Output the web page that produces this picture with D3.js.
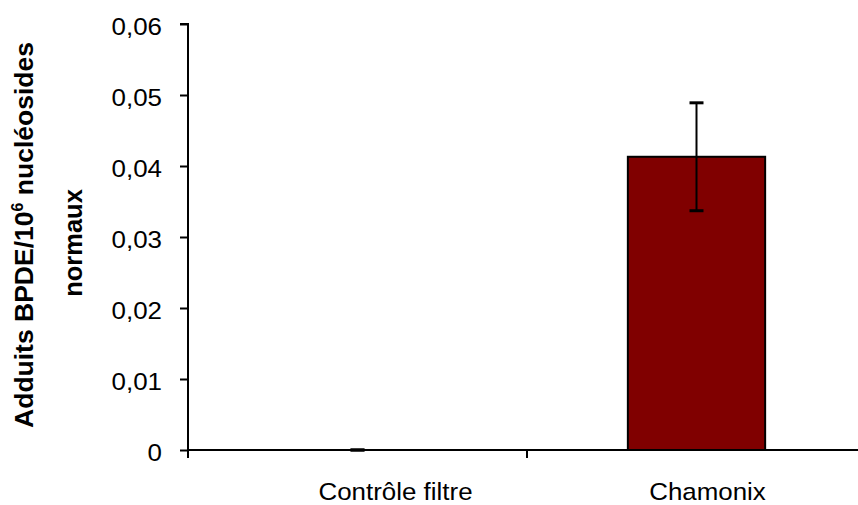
<!DOCTYPE html>
<html>
<head>
<meta charset="utf-8">
<script src="https://cdn.jsdelivr.net/npm/d3@7"></script>
<style>
  html, body { margin: 0; padding: 0; background: #fff; }
  svg { display: block; font-family: Arial, "Liberation Sans", sans-serif; }
</style>
</head>
<body>
<svg id="chart" width="858" height="505"></svg>
<script>
const categories = ["Contrôle filtre", "Chamonix"];
const values = [0, 0.0413];
const errors = [0, 0.0076];
const yTicks = [0, 0.01, 0.02, 0.03, 0.04, 0.05, 0.06];

const svg = d3.select("#chart");
const x0 = 188, x1 = 866, yTop = 24, yBottom = 450;

const x = d3.scaleBand().domain(categories).range([x0, x1]).paddingInner(0).paddingOuter(0);
const y = d3.scaleLinear().domain([0, 0.06]).range([yBottom, yTop]);
const fmt = v => d3.format(".2f")(v).replace(".", ",");

// Y axis
const yAxis = d3.axisLeft(y).tickValues(yTicks).tickSize(8).tickPadding(18)
  .tickFormat(v => v === 0 ? "0" : fmt(v));
const gy = svg.append("g").attr("transform", `translate(${x0},0)`).call(yAxis);
gy.select(".domain").attr("stroke", "#000").attr("stroke-width", 2).attr("d", `M-8,${yTop}H0V${yBottom}`);
gy.selectAll(".tick line").attr("stroke", "#000").attr("stroke-width", 2);
gy.selectAll(".tick text")
  .attr("fill", "#000").attr("font-size", 24).attr("dy", null)
  .attr("y", 10).attr("x", 0)
  .attr("transform", "translate(-26,0) scale(1.08,1)");

// X axis
const xAxis = d3.axisBottom(x).tickSize(0).tickFormat("");
const gx = svg.append("g").attr("transform", `translate(0,${yBottom})`).call(xAxis);
gx.select(".domain").attr("stroke", "#000").attr("stroke-width", 2).attr("d", `M${x0},0H${x1}`);
const bounds = [x0, x0 + x.step()];
gx.selectAll(".bound").data(bounds).enter().append("line")
  .attr("x1", d => d).attr("x2", d => d).attr("y1", 0).attr("y2", 8)
  .attr("stroke", "#000").attr("stroke-width", 2);

// category labels
const labelShift = [38, 11];
svg.selectAll(".cat").data(categories).enter().append("text")
  .attr("transform", (d, i) => `translate(${x(d) + x.bandwidth() / 2 + labelShift[i]},500) scale(1.08,1)`)
  .attr("text-anchor", "middle").attr("font-size", 24).attr("fill", "#000")
  .text(d => d);

// bars
const barW = x.bandwidth() * 0.405;
svg.selectAll(".bar").data(categories).enter().append("rect")
  .attr("x", d => x(d) + x.bandwidth() / 2 - barW / 2)
  .attr("y", (d, i) => y(values[i]))
  .attr("width", barW)
  .attr("height", (d, i) => yBottom - y(values[i]))
  .attr("fill", "#800000").attr("stroke", "#000").attr("stroke-width", 2)
  .attr("display", (d, i) => values[i] > 0 ? null : "none");

// error bars
const capW = 7;
const eb = svg.selectAll(".err").data(categories).enter().append("g");
eb.append("line")
  .attr("x1", d => x(d) + x.bandwidth() / 2).attr("x2", d => x(d) + x.bandwidth() / 2)
  .attr("y1", (d, i) => y(values[i] + errors[i])).attr("y2", (d, i) => y(values[i] - errors[i]))
  .attr("stroke", "#000").attr("stroke-width", 2);
eb.selectAll(".cap").data((d, i) => [
  { c: x(d) + x.bandwidth() / 2, v: values[i] + errors[i] },
  { c: x(d) + x.bandwidth() / 2, v: values[i] - errors[i] }
]).enter().append("line")
  .attr("x1", d => d.c - capW).attr("x2", d => d.c + capW)
  .attr("y1", d => y(d.v)).attr("y2", d => y(d.v))
  .attr("stroke", "#000").attr("stroke-width", 3);

// Y label
const l1 = svg.append("text")
  .attr("transform", "translate(33,235) rotate(-90)")
  .attr("text-anchor", "middle").attr("font-size", 26.5).attr("font-weight", "bold").attr("fill", "#000");
l1.append("tspan").text("Adduits BPDE/10");
l1.append("tspan").attr("font-size", 16).attr("dy", -10).text("6");
l1.append("tspan").attr("dy", 10).text(" nucléosides");
svg.append("text")
  .attr("transform", "translate(82,243) rotate(-90)")
  .attr("text-anchor", "middle").attr("font-size", 25.5).attr("font-weight", "bold").attr("fill", "#000")
  .text("normaux");
</script>
</body>
</html>
